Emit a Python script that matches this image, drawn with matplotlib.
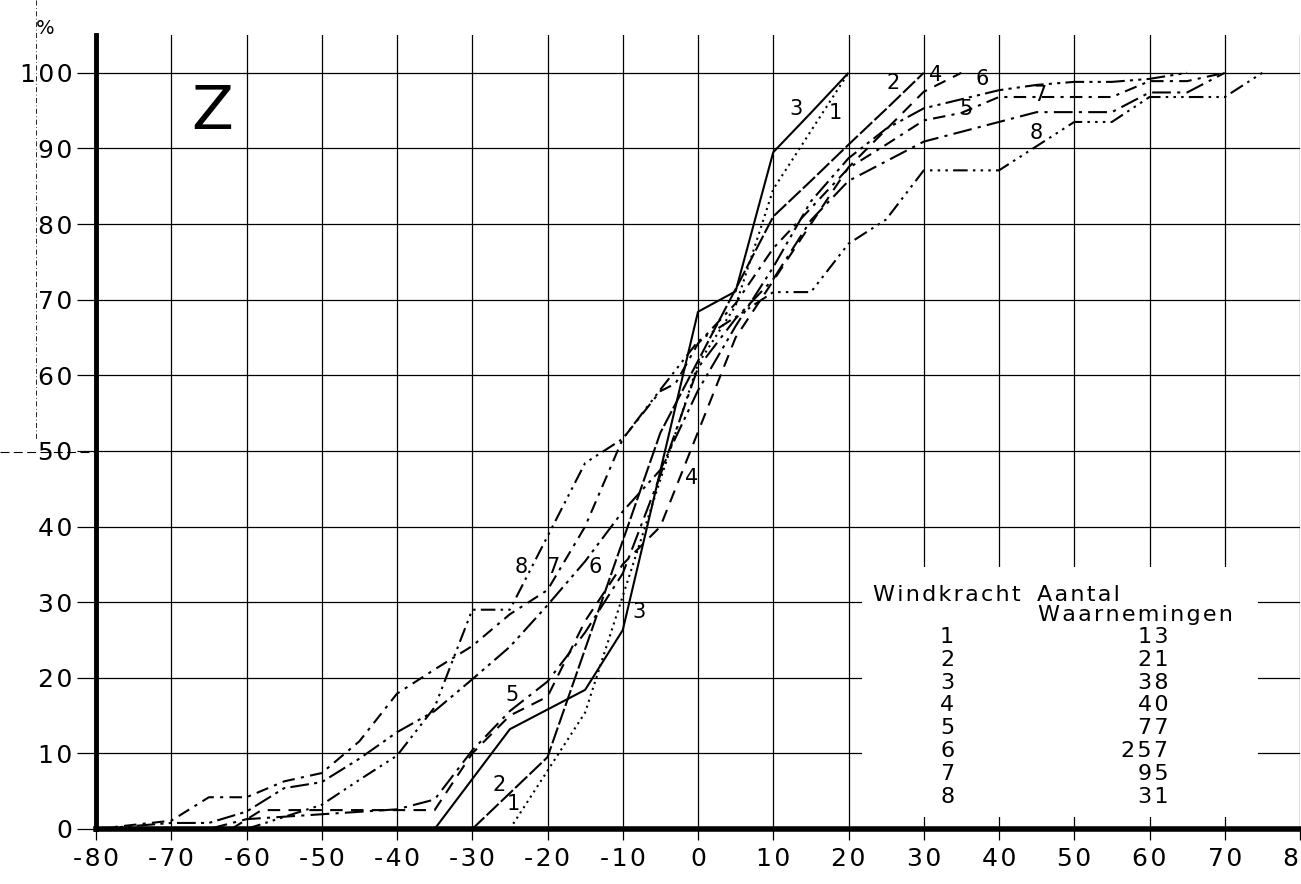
import matplotlib
matplotlib.use("Agg")
import matplotlib.pyplot as plt
from matplotlib.patches import Rectangle
from matplotlib.lines import Line2D

# cumulatieve percentages per windkracht (Z)
x1 = [-25, -20, -15, -10, -5, 0, 5, 10, 15, 20]
y1 = [0, 7.7, 15.4, 30.8, 46.2, 61.5, 69.2, 84.6, 92.3, 100]

x2 = [-30, -20, -15, -10, -5, 0, 5, 10, 15, 20, 25, 30]
y2 = [0, 9.5, 23.8, 38.1, 52.4, 61.9, 71.4, 81.0, 85.7, 90.5, 95.2, 100]

x3 = [-35, -30, -25, -20, -15, -10, -5, 0, 5, 10, 15, 20]
y3 = [0, 6.6, 13.2, 15.8, 18.4, 26.3, 47.4, 68.4, 71.1, 89.5, 94.7, 100]

x4 = [-62, -58, -35, -30, -25, -20, -15, -10, -5, 0, 5, 10, 15, 20, 25, 30, 35]
y4 = [0, 2.5, 2.5, 10, 15, 17.5, 27.5, 35, 40, 52.5, 65, 72.5, 80, 87.5, 92.5, 97.5, 100]

x5 = [-65, -60, -40, -35, -30, -25, -20, -15, -10, -5, 0, 5, 10, 15, 20, 25, 30,
      35, 40, 45, 55, 60, 65, 70]
y5 = [0, 1.3, 2.6, 3.9, 10.4, 15.6, 19.5, 26.0, 33.8, 46.8, 61.0, 67.5, 72.7, 80.5,
      85.7, 88.3, 90.9, 92.2, 93.5, 94.8, 94.8, 97.4, 97.4, 100]

x6 = [-80, -70, -65, -60, -55, -50, -45, -40, -35, -30, -25, -20, -15, -10, -5, 0, 5,
      10, 15, 20, 25, 30, 35, 40, 45, 50, 55, 60, 65]
y6 = [0, 0.8, 0.8, 2.3, 5.4, 6.2, 9.3, 12.8, 15.6, 19.8, 24.1, 29.6, 35.4, 42.0, 47.5,
      58.0, 66.5, 74.3, 83.0, 88.7, 92.6, 95.3, 96.5, 97.7, 98.4, 98.8, 98.8, 99.2, 100]

x7 = [-80, -70, -65, -60, -55, -50, -45, -40, -35, -30, -25, -20, -15, -10, -5, -3, 0,
      5, 10, 15, 20, 25, 30, 35, 40, 55, 60, 65, 70]
y7 = [0, 1.1, 4.2, 4.2, 6.3, 7.4, 11.6, 17.9, 21.1, 24.2, 28.4, 31.6, 40.0, 51.6, 57.9,
      58.9, 64.2, 69.5, 76.8, 82.1, 87.4, 90.5, 93.7, 94.7, 96.8, 96.8, 98.9, 98.9, 100]

x8 = [-60, -50, -45, -40, -35, -30, -25, -20, -15, -10, -5, 0, 5, 10, 15, 20, 25, 30,
      40, 45, 50, 55, 60, 70, 75]
y8 = [0, 3.2, 6.5, 9.7, 16.1, 29.0, 29.0, 38.7, 48.4, 51.6, 58.1, 64.5, 67.7, 71.0,
      71.0, 77.4, 80.6, 87.1, 87.1, 90.3, 93.5, 93.5, 96.8, 96.8, 100]

windkracht = [1, 2, 3, 4, 5, 6, 7, 8]
aantal = [13, 21, 38, 40, 77, 257, 95, 31]

xticks = list(range(-80, 81, 10))
yticks = list(range(0, 101, 10))

curves = [(x1, y1), (x2, y2), (x3, y3), (x4, y4), (x5, y5), (x6, y6), (x7, y7), (x8, y8)]
styles = [
    (0, (1, 2)),
    (0, (8, 1.5)),
    "-",
    (0, (6, 4)),
    (0, (9, 3, 1.5, 3)),
    (0, (9, 2.5, 1.5, 2.5, 1.5, 2.5)),
    (0, (6, 3, 1.5, 3)),
    (0, (7, 2.5, 1.2, 2.5, 1.2, 2.5, 1.2, 2.5)),
]

# label positions near the curves
labels_low = [(-24.6, 3.3, "1"), (-26.4, 5.8, "2"), (-7.9, 28.7, "3"), (-0.8, 46.4, "4"),
              (-24.7, 17.7, "5"), (-13.6, 34.7, "6"), (-19.3, 34.7, "7"), (-23.5, 34.7, "8")]
labels_high = [(18.2, 94.7, "1"), (25.9, 98.7, "2"), (13.0, 95.2, "3"), (31.6, 99.7, "4"),
               (35.6, 95.2, "5"), (37.8, 99.2, "6"), (45.4, 97.0, "7"), (44.9, 92.1, "8")]


def spaced(s):
    # wide lettering like the stencil on the original sheet
    return "\u200a".join(str(s))


plt.rcParams["font.family"] = ["DejaVu Sans"]

fig = plt.figure(figsize=(13.01, 8.84), dpi=100)
ax = fig.add_axes([96 / 1301, 55 / 884, 1204 / 1301, 794 / 884])

ax.set_xlim(-80, 80)
ax.set_ylim(0, 105)
ax.set_xticks(xticks)
ax.set_yticks(yticks)
ax.set_xticklabels([spaced(t) for t in xticks])
ax.set_yticklabels([spaced(t) for t in yticks])
ax.set_axisbelow(True)
ax.grid(True, color="black", lw=0.9)
ax.tick_params(axis="y", length=14, width=0.9, pad=3, labelsize=18, direction="out")
ax.tick_params(axis="x", length=8, width=0.9, pad=5, labelsize=18, direction="out")

for s in ["top", "right"]:
    ax.spines[s].set_visible(False)
ax.spines["left"].set_linewidth(3.5)
ax.spines["bottom"].set_linewidth(4)
ax.spines["bottom"].set_zorder(5)
ax.spines["left"].set_zorder(5)

# white area behind the table
ax.add_patch(Rectangle((21.8, 1.6), 52.6, 33, facecolor="white", edgecolor="none", zorder=1))

for (xs, ys), ls in zip(curves, styles):
    ax.plot(xs, ys, color="black", lw=1.5, linestyle=ls, zorder=3, solid_capstyle="butt")

for x, y, t in labels_low + labels_high:
    ax.text(x, y, t, fontsize=15, ha="center", va="center", zorder=4)

ax.text(-64.5, 94.8, "Z", fontsize=44, ha="center", va="center")

# table
ax.text(23.3, 30.9, spaced("Windkracht"), fontsize=16, ha="left", va="center", zorder=4)
ax.text(45.0, 30.9, spaced("Aantal"), fontsize=16, ha="left", va="center", zorder=4)
ax.text(45.2, 28.3, spaced("Waarnemingen"), fontsize=16, ha="left", va="center", zorder=4)
for i, (w, n) in enumerate(zip(windkracht, aantal)):
    yy = 25.4 - i * 3.02
    ax.text(33.1, yy, str(w), fontsize=16, ha="center", va="center", zorder=4)
    ax.text(62.5, yy, spaced(n), fontsize=16, ha="right", va="center", zorder=4)

fig.text(45 / 1301, 1 - 28 / 884, "%", fontsize=14, ha="center", va="center")

# fold marks of the scanned sheet
fig.add_artist(Line2D([0, 96 / 1301], [1 - 452 / 884] * 2, color="black", lw=0.8,
                      linestyle=(0, (8, 4))))
fig.add_artist(Line2D([36 / 1301] * 2, [1.0, 1 - 440 / 884], color="black", lw=0.6,
                      linestyle=(0, (6, 3, 1, 3))))

fig.savefig("out.png", dpi=100)
